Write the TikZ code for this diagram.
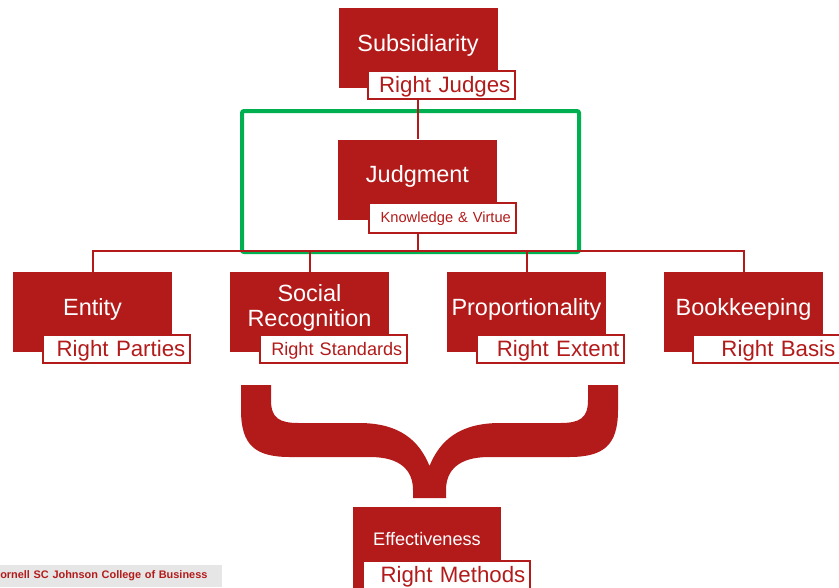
\documentclass[tikz,border=0pt]{standalone}
\usepackage{fontspec}
\setmainfont{Liberation Sans}
\definecolor{cred}{RGB}{179,27,27}
\definecolor{cgreen}{RGB}{0,176,80}
\definecolor{cgrey}{RGB}{230,230,230}
\begin{document}
\begin{tikzpicture}[x=0.75pt,y=-0.75pt,
  mainbox/.style={fill=cred, minimum width=119.25pt, minimum height=60pt, inner sep=0pt},
  maintext/.style={text=white, font=\fontsize{17.6}{18.8}\selectfont, align=center, inner sep=0pt},
  labbox/.style={draw=cred, line width=1.5pt, fill=white, text=cred, minimum width=110.25pt,
    minimum height=21pt, inner xsep=3.5pt, inner ysep=0pt, text width=103.25pt, align=right,
    text height=12.5pt, text depth=1pt, font=\fontsize{16.7}{18}\selectfont},
  conn/.style={draw=cred, line width=1.5pt},
  frame/.style={draw=cgreen, line width=3pt, rounded corners=1.5pt}]
\useasboundingbox (0,0) rectangle (839,587);

% green frame
\node[frame, minimum width=252.75pt, minimum height=105.75pt] (grn) at (410.5,181.5) {};

% main boxes
\node[mainbox, label={[maintext,yshift=2pt]center:Subsidiarity}] (subs) at (418,48) {};
\node[mainbox, label={[maintext,yshift=2pt]center:Judgment}] (judg) at (417.5,179.5) {};
\node[mainbox, label={[maintext,yshift=2pt]center:Entity}] (ent) at (92.5,312) {};
\node[mainbox, label={[maintext,yshift=3pt]center:{Social\\Recognition}}] (soc) at (309.5,312) {};
\node[mainbox, label={[maintext,yshift=2pt]center:Proportionality}] (prop) at (526.5,312) {};
\node[mainbox, label={[maintext,yshift=2pt]center:Bookkeeping}] (book) at (743.5,312) {};
\node[fill=cred, minimum width=111pt, minimum height=75pt, inner sep=0pt,
  label={[text=white, font=\fontsize{13.6}{15}\selectfont, yshift=13.5pt]center:Effectiveness}] (eff) at (427,557) {};

% label boxes
\node[labbox] (judges) at (441.5,85) {Right Judges};
\node[labbox, minimum height=22.5pt, text height=8pt, text depth=1.5pt, font=\fontsize{11}{13}\selectfont] (kv) at (442,218) {Knowledge \& Virtue};
\node[labbox] (parties) at (116.5,349) {Right Parties};
\node[labbox, text height=10pt, text depth=1pt, font=\fontsize{13.6}{15}\selectfont] (stand) at (333.5,349) {Right Standards};
\node[labbox] (extent) at (550.5,349) {Right Extent};
\node[labbox] (basis) at (766.5,349) {Right Basis};
\node[labbox, minimum width=125.25pt, text width=118.25pt] (meth) at (446.5,575) {Right Methods};

% connectors
\coordinate (bus) at (418,251);
\draw[conn] (judg.north) -- (judg.north |- judges.south);
\draw[conn] (judg.south |- kv.south) -- (judg.south |- bus);
\draw[conn] (ent.north) -- (ent.north |- bus) -- (book.north |- bus) -- (book.north);
\draw[conn] (soc.north) -- (soc.north |- bus);
\draw[conn] (prop.north) -- (prop.north |- bus);

% brace
\fill[cred] (241,385) -- (241,410) .. controls (241,445) and (255,457) .. (290,457)
  -- (370,457) .. controls (400,457) and (413,470) .. (413,490) -- (413,498) -- (446,498)
  -- (446,490) .. controls (446,470) and (459,457) .. (489,457) -- (569,457)
  .. controls (604,457) and (618,445) .. (618,410) -- (618,385) -- (588,385) -- (588,400)
  .. controls (588,418) and (580,423) .. (560,423) -- (500,423)
  .. controls (460,423) and (440,440) .. (429.5,466)
  .. controls (419,440) and (399,423) .. (359,423) -- (299,423)
  .. controls (279,423) and (271,418) .. (271,400) -- (271,385) -- cycle;

% footer
\node[fill=cgrey, anchor=south west, minimum width=166.5pt, minimum height=16.5pt,
  inner xsep=0pt, inner ysep=0pt, text width=166.5pt, align=left, text=cred,
  font=\fontsize{8.2}{10}\selectfont\bfseries] (foot) at (0,587) {ornell SC Johnson College of Business};
\end{tikzpicture}
\end{document}
